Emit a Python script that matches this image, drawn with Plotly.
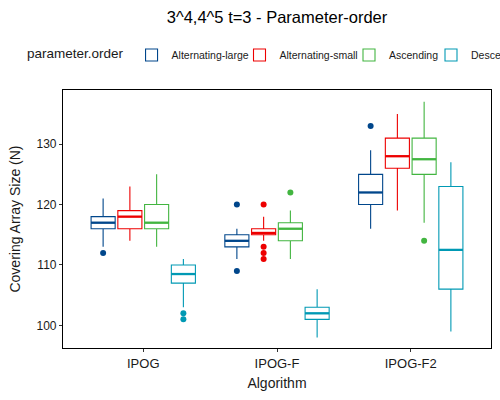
import plotly.graph_objects as go

# data
algorithms = ['IPOG', 'IPOG-F', 'IPOG-F2']
orders = ['Alternating-large', 'Alternating-small', 'Ascending', 'Descending']
colors = ['#00468B', '#ED0000', '#42B540', '#0099B4']

lower = {
    'Alternating-large': [113, 111, 116],
    'Alternating-small': [114, 114, 119],
    'Ascending': [113, 111, 117],
    'Descending': [103, 98, 99],
}
q1 = {
    'Alternating-large': [116, 113, 120],
    'Alternating-small': [116, 115, 126],
    'Ascending': [116, 114, 125],
    'Descending': [107, 101, 106],
}
median = {
    'Alternating-large': [117, 114, 122],
    'Alternating-small': [118, 115.3, 128],
    'Ascending': [117, 116, 127.5],
    'Descending': [108.5, 102, 112.5],
}
q3 = {
    'Alternating-large': [118, 115, 125],
    'Alternating-small': [119, 116, 131],
    'Ascending': [120, 117, 131],
    'Descending': [110, 103, 123],
}
upper = {
    'Alternating-large': [121, 116, 129],
    'Alternating-small': [123, 118, 135],
    'Ascending': [125, 119, 137],
    'Descending': [111, 106, 127],
}
# outliers: (algorithm index, value)
outliers = {
    'Alternating-large': [(0, 112), (1, 120), (1, 109), (2, 133)],
    'Alternating-small': [(1, 120), (1, 113), (1, 112), (1, 111)],
    'Ascending': [(1, 122), (2, 114)],
    'Descending': [(0, 102), (0, 101)],
}

slot = 0.2
box_w = 0.18
# one small legend per series so the row never wraps (like ggplot's, it runs off the edge)
legend_ids = ['legend', 'legend2', 'legend3', 'legend4']
legend_x = [0.05, 0.479, 0.698, 0.862]

fig = go.Figure()
for k, name in enumerate(orders):
    off = (k - 1.5) * slot
    pos = [i + off for i in range(len(algorithms))]
    fig.add_trace(go.Box(
        name=name, x=pos, q1=q1[name], median=median[name], q3=q3[name],
        lowerfence=lower[name], upperfence=upper[name],
        width=box_w, whiskerwidth=0, boxpoints=False,
        fillcolor='white', line=dict(color=colors[k], width=1.1),
        hoverinfo='skip', legend=legend_ids[k],
    ))
    # thicker median line like ggplot
    for p, m in zip(pos, median[name]):
        fig.add_trace(go.Scatter(
            x=[p - box_w / 2, p + box_w / 2], y=[m, m], mode='lines',
            line=dict(color=colors[k], width=2.3), showlegend=False,
            hoverinfo='skip',
        ))
    pts = outliers[name]
    fig.add_trace(go.Scatter(
        x=[i + off for i, v in pts], y=[v for i, v in pts], mode='markers',
        marker=dict(color=colors[k], size=6), showlegend=False,
        hoverinfo='skip',
    ))

legend_common = dict(orientation='h', xref='container', yref='container',
                     xanchor='left', y=0.8625, yanchor='middle',
                     font=dict(size=10.5, color='#1a1a1a'), bgcolor='rgba(0,0,0,0)')
layout_legends = {}
for k, lid in enumerate(legend_ids):
    d = dict(legend_common, x=legend_x[k])
    if k == 0:
        d['title'] = dict(text='parameter.order', font=dict(size=13.5), side='left')
    layout_legends[lid] = d

fig.update_layout(
    width=500, height=400,
    margin=dict(l=63, r=9, t=90, b=52),
    plot_bgcolor='white', paper_bgcolor='white',
    font=dict(family='Liberation Sans, Arial', color='#1a1a1a', size=12),
    title=dict(text='3^4,4^5 t=3 - Parameter-order', x=0.554, xanchor='center',
               yref='container', y=0.958, yanchor='middle',
               font=dict(size=16.5, color='black')),
    showlegend=True,
    **layout_legends,
)
fig.update_xaxes(
    range=[-0.6, 2.6], tickvals=list(range(len(algorithms))), ticktext=algorithms,
    tickfont=dict(size=13),
    showline=True, mirror=True, linecolor='black', linewidth=1.2,
    ticks='outside', ticklen=3, tickcolor='#333', showgrid=False, zeroline=False,
    title=dict(text='Algorithm', standoff=8, font=dict(size=14)),
)
fig.update_yaxes(
    range=[96.26, 138.96], tickvals=[100, 110, 120, 130], tickfont=dict(size=12),
    showline=True, mirror=True, linecolor='black', linewidth=1.2,
    ticks='outside', ticklen=3, tickcolor='#333', showgrid=False, zeroline=False,
    title=dict(text='Covering Array Size (N)', standoff=12, font=dict(size=14)),
)

# drop the browser's default 8px body margin so the figure sits at the window corner
fig.write_html('out.html', config={'displayModeBar': False},
               post_script="document.body.style.margin='0';")
